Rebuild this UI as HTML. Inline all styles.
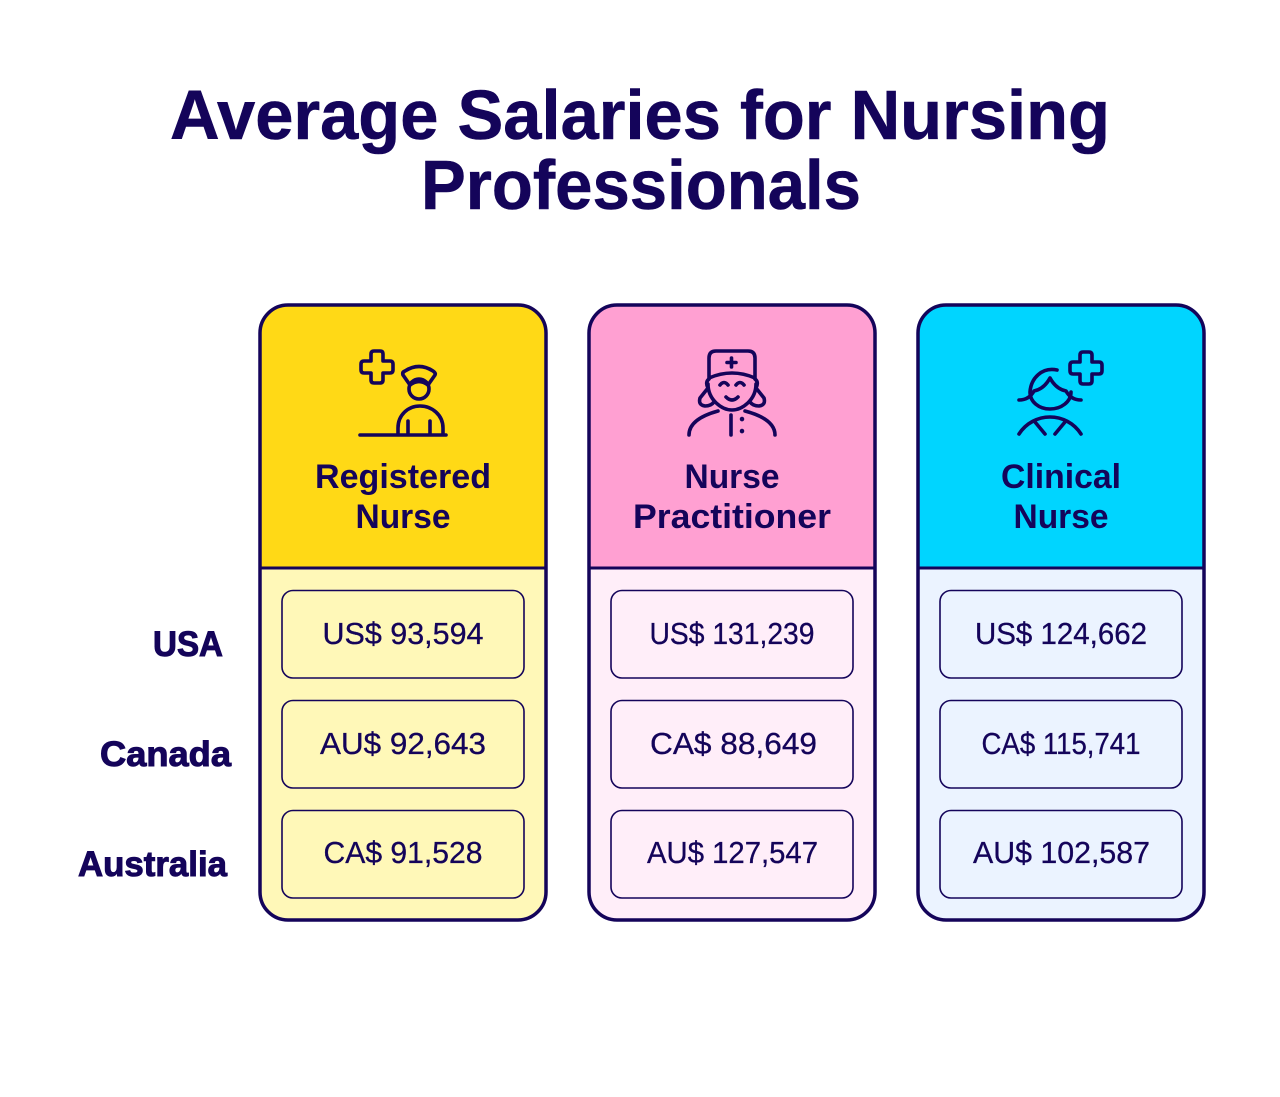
<!DOCTYPE html>
<html lang="en">
<head>
<meta charset="utf-8">
<title>Average Salaries for Nursing Professionals</title>
<style>
html,body{margin:0;padding:0;background:#fff;width:1280px;height:1097px;overflow:hidden}
svg{display:block}
text{font-family:"Liberation Sans",sans-serif;fill:#14045a;text-anchor:middle}
.title{font-size:70px;font-weight:700;stroke:#14045a;stroke-width:.6px}
.head{font-size:34px;font-weight:700}
.val{font-size:31px;font-weight:400;stroke:#14045a;stroke-width:.3px}
.row{font-size:35px;font-weight:700;stroke:#14045a;stroke-width:1px}
.cell{stroke:#14045a;stroke-width:1.6;}
.card{fill:none;stroke:#14045a;stroke-width:3.5}
.ic{fill:none;stroke:#14045a;stroke-width:3.6;stroke-linecap:round;stroke-linejoin:round}
</style>
</head>
<body>
<svg width="1280" height="1097" viewBox="0 0 1280 1097">
<rect width="1280" height="1097" fill="#fff"/>

<text class="title" x="640" y="139" textLength="940" lengthAdjust="spacingAndGlyphs">Average Salaries for Nursing</text>
<text class="title" x="641" y="209" textLength="440" lengthAdjust="spacingAndGlyphs">Professionals</text>

<text class="row" x="188" y="656" textLength="70" lengthAdjust="spacingAndGlyphs">USA</text>
<text class="row" x="165.500" y="766" textLength="131" lengthAdjust="spacingAndGlyphs">Canada</text>
<text class="row" x="152.500" y="876" textLength="149" lengthAdjust="spacingAndGlyphs">Australia</text>

<!-- Registered Nurse -->
<g>
<path d="M288 305H518Q546 305 546 333V568H260V333Q260 305 288 305Z" fill="#ffd916"/>
<path d="M260 568H546V892Q546 920 518 920H288Q260 920 260 892Z" fill="#fff8b8"/>
<rect class="card" x="260" y="305" width="286" height="615" rx="28"/>
<path d="M260 568H546" stroke="#14045a" stroke-width="3"/>
<g class="ic">
<path d="M371 354Q371 351 374 351H380Q383 351 383 354V361H390Q393 361 393 364V370Q393 373 390 373H383V380Q383 383 380 383H374Q371 383 371 380V373H364Q361 373 361 370V364Q361 361 364 361H371Z"/>
<path d="M410 385L403 375Q402 372 405 371Q419 362 433 371Q436 373 435 375L428 385Q419 378 410 385Z"/>
<circle cx="419" cy="389" r="10"/>
<path d="M360 435H446M398 435V428C398 415 408 406 420 406C432 406 443 415 443 428V435M408 421V435M430 421V435"/>
</g>
<text class="head" x="403" y="488" textLength="176" lengthAdjust="spacingAndGlyphs">Registered</text>
<text class="head" x="403" y="528" textLength="95" lengthAdjust="spacingAndGlyphs">Nurse</text>
<rect class="cell" x="282" y="590.500" width="242" height="87.500" rx="11" fill="#fff8b8"/>
<text class="val" x="403" y="644" textLength="161" lengthAdjust="spacingAndGlyphs">US$ 93,594</text>
<rect class="cell" x="282" y="700.500" width="242" height="87.500" rx="11" fill="#fff8b8"/>
<text class="val" x="403" y="754" textLength="166" lengthAdjust="spacingAndGlyphs">AU$ 92,643</text>
<rect class="cell" x="282" y="810.500" width="242" height="87.500" rx="11" fill="#fff8b8"/>
<text class="val" x="403" y="863" textLength="159" lengthAdjust="spacingAndGlyphs">CA$ 91,528</text>
</g>

<!-- Nurse Practitioner -->
<g>
<path d="M617 305H847Q875 305 875 333V568H589V333Q589 305 617 305Z" fill="#ffa0d2"/>
<path d="M589 568H875V892Q875 920 847 920H617Q589 920 589 892Z" fill="#ffeef9"/>
<rect class="card" x="589" y="305" width="286" height="615" rx="28"/>
<path d="M589 568H875" stroke="#14045a" stroke-width="3"/>
<g class="ic">
<path d="M709 378V358Q709 351 716 351H748Q755 351 755 358V378Q732 368 709 378Z"/>
<path d="M731.500 358V367M727 362.500H736"/>
<path d="M708 384C708 400 722 410 732 410C742 410 756 400 756 384"/>
<path d="M709 379Q705 382 708 388L700 398Q698 405 705 406Q711 406 714 402M755 379Q759 382 756 388L764 398Q766 405 759 406Q753 406 750 402"/>
<path d="M720 385Q724 380 728 385M736 385Q740 380 744 385"/>
<path d="M726 397Q732 403 738 397"/>
<path d="M718 411Q689 419 689 435M745 411Q775 419 775 435M731 415V435"/>
<path d="M742 419V419.100M742 431V431.100" stroke-width="4.500"/>
</g>
<text class="head" x="732" y="488" textLength="95" lengthAdjust="spacingAndGlyphs">Nurse</text>
<text class="head" x="732" y="528" textLength="198" lengthAdjust="spacingAndGlyphs">Practitioner</text>
<rect class="cell" x="611" y="590.500" width="242" height="87.500" rx="11" fill="#ffeef9"/>
<text class="val" x="732" y="644" textLength="165" lengthAdjust="spacingAndGlyphs">US$ 131,239</text>
<rect class="cell" x="611" y="700.500" width="242" height="87.500" rx="11" fill="#ffeef9"/>
<text class="val" x="733.500" y="754" textLength="167" lengthAdjust="spacingAndGlyphs">CA$ 88,649</text>
<rect class="cell" x="611" y="810.500" width="242" height="87.500" rx="11" fill="#ffeef9"/>
<text class="val" x="732.500" y="863" textLength="171" lengthAdjust="spacingAndGlyphs">AU$ 127,547</text>
</g>

<!-- Clinical Nurse -->
<g>
<path d="M946 305H1176Q1204 305 1204 333V568H918V333Q918 305 946 305Z" fill="#00d5ff"/>
<path d="M918 568H1204V892Q1204 920 1176 920H946Q918 920 918 892Z" fill="#ebf3ff"/>
<rect class="card" x="918" y="305" width="286" height="615" rx="28"/>
<path d="M918 568H1204" stroke="#14045a" stroke-width="3"/>
<g class="ic">
<path d="M1080 355Q1080 352 1083 352H1089Q1092 352 1092 355V362H1099Q1102 362 1102 365V371Q1102 374 1099 374H1092V381Q1092 384 1089 384H1083Q1080 384 1080 381V374H1073Q1070 374 1070 371V365Q1070 362 1073 362H1080Z"/>
<path d="M1057 370C1042 367 1031 378 1030 392C1030 402 1039 409 1050 409C1061 409 1071 402 1071 392"/>
<path d="M1019 400Q1029 400 1034 391Q1044 389 1050 378Q1056 389 1066 391Q1071 400 1081 400"/>
<path d="M1019 434C1026 423 1038 417 1050 417C1062 417 1074 423 1081 434M1035 422L1045 434M1065 422L1055 434"/>
</g>
<text class="head" x="1061" y="488" textLength="120" lengthAdjust="spacingAndGlyphs">Clinical</text>
<text class="head" x="1061" y="528" textLength="95" lengthAdjust="spacingAndGlyphs">Nurse</text>
<rect class="cell" x="940" y="590.500" width="242" height="87.500" rx="11" fill="#ebf3ff"/>
<text class="val" x="1061" y="644" textLength="172" lengthAdjust="spacingAndGlyphs">US$ 124,662</text>
<rect class="cell" x="940" y="700.500" width="242" height="87.500" rx="11" fill="#ebf3ff"/>
<text class="val" x="1061" y="754" textLength="159" lengthAdjust="spacingAndGlyphs">CA$ 115,741</text>
<rect class="cell" x="940" y="810.500" width="242" height="87.500" rx="11" fill="#ebf3ff"/>
<text class="val" x="1061.500" y="863" textLength="177" lengthAdjust="spacingAndGlyphs">AU$ 102,587</text>
</g>
</svg>
</body>
</html>
